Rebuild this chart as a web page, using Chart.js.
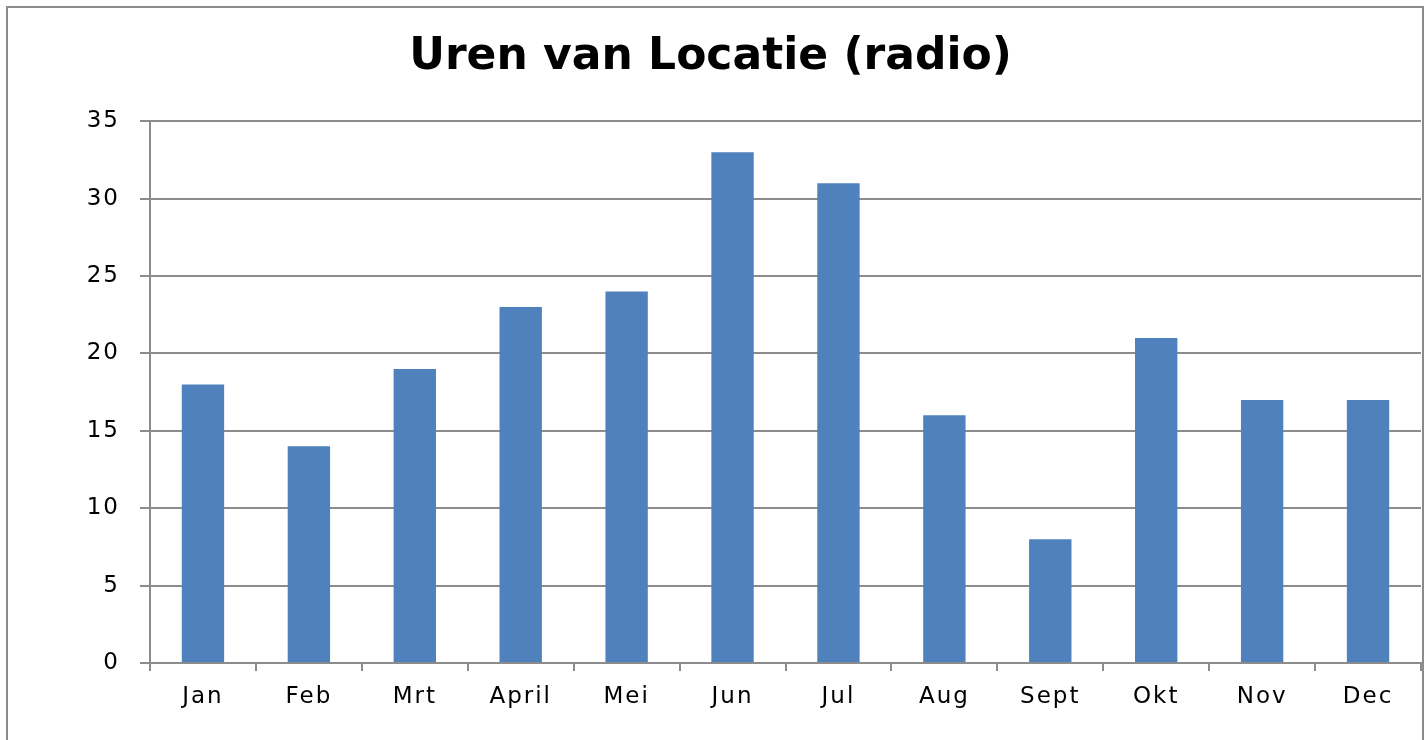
<!DOCTYPE html>
<html lang="nl">
<head>
  <meta charset="UTF-8" />
  <title>Uren van Locatie (radio)</title>
  <script src="https://cdn.jsdelivr.net/npm/chart.js"></script>
  <style>
    body {
      margin: 0;
      background: #ffffff;
      overflow: hidden;
    }
    .frame {
      position: absolute;
      left: 6px;
      top: 6px;
      width: 1414px;
      height: 800px;
      border: 2px solid #8c8c8c;
      z-index: 2;
      pointer-events: none;
    }
    .wrap {
      position: absolute;
      left: 0;
      top: 0;
      width: 1426px;
      height: 740px;
    }
  </style>
</head>
<body>
  <div class="frame"></div>
  <div class="wrap"><canvas id="chart"></canvas></div>

  <script>
    const months = ['Jan', 'Feb', 'Mrt', 'April', 'Mei', 'Jun', 'Jul', 'Aug', 'Sept', 'Okt', 'Nov', 'Dec'];
    const hours = [18, 14, 19, 23, 24, 33, 31, 16, 8, 21, 17, 17];
    const yTicks = [0, 5, 10, 15, 20, 25, 30, 35];

    const gridGray = '#8c8c8c';
    const tickFont = { family: "'DejaVu Sans', sans-serif", size: 23 };

    // the original axis labels are set wide; space them out a bit
    const labelSpacing = {
      id: 'labelSpacing',
      beforeDraw(chart) { chart.ctx.letterSpacing = '0px'; },
      afterDatasetsDraw(chart) { chart.ctx.letterSpacing = '2px'; },
      afterDraw(chart) { chart.ctx.letterSpacing = '0px'; }
    };

    const ctx = document.getElementById('chart').getContext('2d');
    new Chart(ctx, {
      type: 'bar',
      data: {
        labels: months,
        datasets: [{
          label: 'Uren',
          data: hours,
          backgroundColor: '#4f81bd',
          borderWidth: 0,
          categoryPercentage: 1.0,
          barPercentage: 0.4
        }]
      },
      plugins: [labelSpacing],
      options: {
        responsive: true,
        maintainAspectRatio: false,
        animation: false,
        layout: { padding: { left: 0, right: 5, top: 0, bottom: 0 } },
        plugins: {
          legend: { display: false },
          tooltip: { enabled: false },
          title: {
            display: true,
            text: 'Uren van Locatie (radio)',
            color: '#000000',
            font: { family: "'DejaVu Sans', sans-serif", size: 44, weight: 'bold', lineHeight: 1.2 },
            padding: { top: 31.5, bottom: 37 }
          }
        },
        scales: {
          x: {
            offset: true,
            grid: {
              display: true,
              offset: true,
              drawOnChartArea: false,
              drawTicks: true,
              tickLength: 8,
              color: gridGray,
              lineWidth: 2
            },
            border: { display: true, color: gridGray, width: 2 },
            ticks: { color: '#000000', font: tickFont, padding: 12, maxRotation: 0, z: 1 },
            afterFit: (scale) => { scale.height = 77; }
          },
          y: {
            min: 0,
            max: 35,
            afterBuildTicks: (scale) => {
              scale.ticks = yTicks.map(v => ({ value: v }));
            },
            grid: {
              color: gridGray,
              lineWidth: 2,
              drawTicks: true,
              tickLength: 10
            },
            border: { display: true, color: gridGray, width: 2 },
            ticks: { color: '#000000', font: tickFont, padding: 20, z: 1 },
            afterFit: (scale) => { scale.width = 150; }
          }
        }
      }
    });
  </script>
</body>
</html>
